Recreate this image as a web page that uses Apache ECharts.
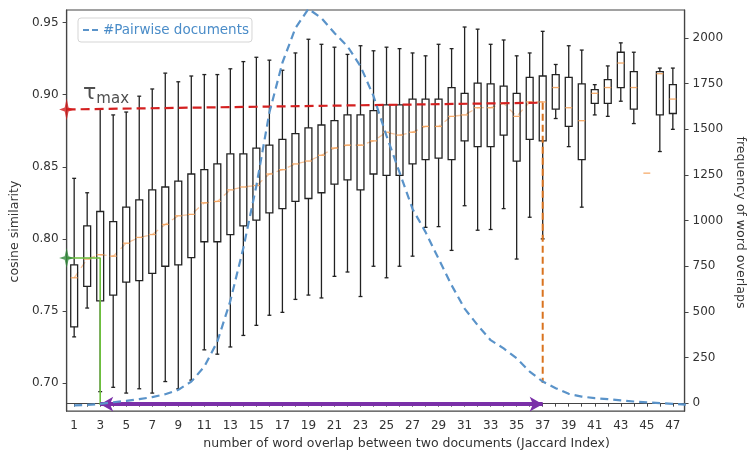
<!DOCTYPE html>
<html>
<head>
<meta charset="utf-8">
<title>Cosine similarity vs. word overlap</title>
<script src="https://cdn.jsdelivr.net/npm/echarts@6/dist/echarts.min.js"></script>
<style>
  html, body { margin: 0; padding: 0; background: #fff; }
  #chart { width: 755px; height: 455px; }
</style>
</head>
<body>
<div id="chart"></div>
<script>
// Number of overlapping words (box positions)
const overlaps = [1,2,3,4,5,6,7,8,9,10,11,12,13,14,15,16,17,18,19,20,21,22,23,24,25,26,27,28,29,30,31,32,33,34,35,36,37,38,39,40,41,42,43,44,45,46,47];

// Cosine similarity distribution per overlap count
const whiskerLow = [0.732,0.752,0.694,0.697,0.693,0.696,0.693,0.701,0.696,0.702,0.723,0.720,0.725,0.733,0.740,0.747,0.749,0.758,0.761,0.759,0.774,0.777,0.760,0.781,0.773,0.781,0.788,0.808,0.8085,0.792,0.823,0.806,0.8065,0.821,0.786,0.815,0.800,0.8835,0.864,0.822,0.886,0.885,0.8955,0.880,null,0.8606,0.876];
const quartile1  = [0.739,0.767,0.757,0.761,0.770,0.771,0.776,0.781,0.782,0.787,0.798,0.798,0.803,0.809,0.813,0.818,0.821,0.826,0.828,0.832,0.838,0.841,0.834,0.845,0.844,0.844,0.852,0.855,0.856,0.855,0.868,0.864,0.864,0.872,0.854,0.869,0.868,0.890,0.878,0.855,0.894,0.894,0.905,0.890,null,0.886,0.887];
const medians    = [0.773,0.786,0.789,0.788,0.797,0.801,0.803,0.810,0.816,0.817,0.825,0.826,0.834,0.836,0.837,0.845,0.848,0.852,0.854,0.858,0.863,0.865,0.865,0.868,0.874,0.872,0.874,0.878,0.878,0.885,0.886,0.891,0.891,0.894,0.885,0.895,0.895,0.905,0.891,0.882,0.901,0.905,0.922,0.905,0.8456,0.9146,0.897];
const quartile3  = [0.782,0.809,0.819,0.812,0.822,0.827,0.834,0.836,0.840,0.845,0.848,0.852,0.859,0.859,0.863,0.865,0.869,0.873,0.877,0.879,0.882,0.886,0.886,0.889,0.893,0.893,0.897,0.897,0.897,0.905,0.901,0.908,0.9075,0.906,0.901,0.912,0.913,0.914,0.912,0.9075,0.9035,0.9105,0.9295,0.916,null,0.916,0.907];
const whiskerHigh= [0.842,0.832,0.890,0.886,0.888,0.899,0.904,0.915,0.909,0.913,0.914,0.914,0.918,0.923,0.926,0.924,0.917,0.929,0.9385,0.935,0.933,0.928,0.934,0.9305,0.933,0.932,0.929,0.927,0.935,0.932,0.947,0.9455,0.935,0.938,0.927,0.929,0.944,0.921,0.934,0.931,0.907,0.920,0.936,0.9295,null,0.9185,0.9185];

// Number of document pairs per overlap count (right axis)
const pairPositions = [1,2,3,4,5,6,7,8,9,10,11,12,13,14,15,16,17,18,19,20,21,22,23,24,25,26,27,28,29,30,31,32,33,34,35,36,37,38,39,40,41,42,43,44,45,46,47,48];
const pairCounts = [-12,-10,-4,5,12,22,33,49,73,118,200,337,560,850,1191,1592,1865,2055,2160,2110,2028,1955,1846,1682,1464,1264,1064,937,791,646,518,427,345,300,246,173,118,82,51,36,27,22,15,9,4,0,-4,-8];

// Tick labels
const xTickValues = overlaps;
const xLabelValues = overlaps.filter(v => v % 2 === 1);
const leftTicks = [0.70, 0.75, 0.80, 0.85, 0.90, 0.95];
const rightTicks = [0, 250, 500, 750, 1000, 1250, 1500, 1750, 2000];

// Thresholds and annotated range
const xStart = 0.42, xEnd = 47.9;
const tauMax = 0.8898, tauMaxEnd = 0.8945;
const tauMin = 0.7867;
const lowerOverlap = 3, upperOverlap = 37;
const rangeLevel = 0.6853;
const upperDropTo = 0.700;
const lowerDropTo = 0.6848;

const boxData = overlaps.map((x, i) => [x, whiskerLow[i], quartile1[i], medians[i], quartile3[i], whiskerHigh[i]]);
const medianTrend = overlaps.filter(x => x <= upperOverlap).map((x, i) => [x, medians[i]]);
const pairData = pairPositions.map((x, i) => [x, pairCounts[i]]);

const FONT = 'DejaVu Sans';
const STAR = 'path://M0,-10 L1.8,-1.8 L7,0 L1.8,1.8 L0,10 L-1.8,1.8 L-7,0 L-1.8,-1.8 Z';
const DASH_ICON = 'path://M0,0 L6,0 L6,2 L0,2 Z M9,0 L15,0 L15,2 L9,2 Z';

function renderBox(params, api) {
  const x = api.value(0);
  const med = api.coord([x, api.value(3)]);
  const halfBox = api.size([0.265, 0])[0];
  const halfCap = api.size([0.15, 0])[0];
  const cx = med[0];
  const children = [];
  const lowV = api.value(1);
  if (!isNaN(lowV) && lowV !== null) {
    const lo = api.coord([x, lowV]);
    const q1 = api.coord([x, api.value(2)]);
    const q3 = api.coord([x, api.value(4)]);
    const hi = api.coord([x, api.value(5)]);
    const stroke = { stroke: '#222', lineWidth: 1.3, fill: null };
    children.push(
      { type: 'line', shape: { x1: cx, y1: lo[1], x2: cx, y2: q1[1] }, style: stroke },
      { type: 'line', shape: { x1: cx, y1: q3[1], x2: cx, y2: hi[1] }, style: stroke },
      { type: 'line', shape: { x1: cx - halfCap, y1: lo[1], x2: cx + halfCap, y2: lo[1] }, style: stroke },
      { type: 'line', shape: { x1: cx - halfCap, y1: hi[1], x2: cx + halfCap, y2: hi[1] }, style: stroke },
      { type: 'rect', shape: { x: cx - halfBox, y: q3[1], width: halfBox * 2, height: q1[1] - q3[1] },
        style: { stroke: '#222', lineWidth: 1.3, fill: 'none' } }
    );
  }
  children.push({ type: 'line', shape: { x1: cx - halfBox, y1: med[1], x2: cx + halfBox, y2: med[1] },
    style: { stroke: '#f5a35c', lineWidth: 1.3, opacity: 0.9 } });
  return { type: 'group', children };
}

const chart = echarts.init(document.getElementById('chart'), null, { renderer: 'canvas' });

chart.setOption({
  animation: false,
  backgroundColor: '#ffffff',
  textStyle: { fontFamily: FONT },
  grid: { left: 65, right: 58, top: 10, bottom: 42, show: true, borderColor: '#444', borderWidth: 1.2, backgroundColor: 'transparent' },
  legend: {
    left: 78, top: 18,
    data: [{ name: '#Pairwise documents', icon: DASH_ICON }],
    itemWidth: 15, itemHeight: 2.2, itemGap: 4,
    padding: [5, 3, 5, 5],
    borderColor: '#d5d5d5', borderWidth: 1, borderRadius: 3,
    backgroundColor: '#fff',
    itemStyle: { color: '#5a93c9' },
    textStyle: { color: '#4a8cc8', fontSize: 13.5, fontFamily: FONT }
  },
  xAxis: {
    type: 'value', min: xStart, max: xEnd,
    name: 'number of word overlap between two documents (Jaccard Index)',
    nameLocation: 'middle', nameGap: 24,
    nameTextStyle: { color: '#333', fontSize: 12.5, fontFamily: FONT, padding: [0, 0, 0, 62] },
    axisLine: { show: true, lineStyle: { color: '#444', width: 1.2 } },
    axisTick: { show: true, length: 3.5, customValues: xTickValues, lineStyle: { color: '#444' } },
    axisLabel: { customValues: xLabelValues, color: '#333', fontSize: 12, margin: 9, fontFamily: FONT },
    splitLine: { show: false }
  },
  yAxis: [
    {
      type: 'value', min: 0.6805, max: 0.9588, position: 'left',
      name: 'cosine similarity', nameLocation: 'middle', nameGap: 40,
      nameTextStyle: { color: '#333', fontSize: 12.5, fontFamily: FONT, padding: [0, 42, 0, 0] },
      axisLine: { show: true, lineStyle: { color: '#444', width: 1.2 } },
      axisTick: { show: true, length: 4, customValues: leftTicks, lineStyle: { color: '#444' } },
      axisLabel: { customValues: leftTicks, formatter: v => v.toFixed(2), color: '#333', fontSize: 12, margin: 8, fontFamily: FONT },
      splitLine: { show: false }
    },
    {
      type: 'value', min: -43.6, max: 2154, position: 'right',
      name: 'frequency of word overlaps', nameLocation: 'middle', nameGap: 48, nameRotate: -90,
      nameTextStyle: { color: '#333', fontSize: 12.6, fontFamily: FONT, padding: [0, 0, 0, 24] },
      axisLine: { show: true, lineStyle: { color: '#444', width: 1.2 } },
      axisTick: { show: true, length: 4, customValues: rightTicks, lineStyle: { color: '#444' } },
      axisLabel: { customValues: rightTicks, formatter: v => String(v), color: '#333', fontSize: 12, margin: 8, fontFamily: FONT },
      splitLine: { show: false }
    }
  ],
  series: [
    {
      name: 'boxes', type: 'custom', xAxisIndex: 0, yAxisIndex: 0,
      renderItem: renderBox,
      encode: { x: 0, y: [1, 2, 3, 4, 5] },
      data: boxData, z: 3, silent: true
    },
    {
      name: 'median trend', type: 'line', yAxisIndex: 0, data: medianTrend,
      symbol: 'none', silent: true, z: 2,
      lineStyle: { color: '#f7b27a', width: 1.3, type: [7, 5], opacity: 0.75 }
    },
    {
      name: 'tau max', type: 'line', yAxisIndex: 0,
      data: [[xStart, tauMax], [upperOverlap, tauMaxEnd]],
      symbol: 'none', silent: true, z: 4,
      lineStyle: { color: '#d42020', width: 2.2, type: [9, 5] }
    },
    {
      name: 'upper drop', type: 'line', yAxisIndex: 0,
      data: [[upperOverlap, tauMaxEnd], [upperOverlap, upperDropTo]],
      symbol: 'none', silent: true, z: 4,
      lineStyle: { color: '#d9731f', width: 2, type: [7, 4] }
    },
    {
      name: 'tau min', type: 'line', yAxisIndex: 0,
      data: [[xStart, tauMin], [lowerOverlap, tauMin], [lowerOverlap, lowerDropTo]],
      symbol: 'none', silent: true, z: 4,
      lineStyle: { color: '#6cbf3c', width: 1.6 }
    },
    {
      name: '#Pairwise documents', type: 'line', yAxisIndex: 1, data: pairData,
      symbol: 'none', silent: true, z: 5, clip: true,
      itemStyle: { color: '#5a93c9' },
      lineStyle: { color: '#5a93c9', width: 2.2, type: [8, 5] }
    },
    {
      name: 'range', type: 'line', yAxisIndex: 0, data: [], silent: true, z: 6,
      markLine: {
        silent: true, animation: false,
        symbol: ['arrow', 'arrow'], symbolSize: [11, 13],
        label: { show: false },
        lineStyle: { color: '#7a2fa8', width: 4, type: 'solid' },
        data: [[{ coord: [lowerOverlap, rangeLevel] }, { coord: [upperOverlap, rangeLevel] }]]
      }
    },
    {
      name: 'tau max marker', type: 'scatter', yAxisIndex: 0, clip: false, silent: true, z: 7,
      data: [[xStart, tauMax]],
      symbol: STAR, symbolSize: [15, 22],
      itemStyle: { color: '#d41c1c' },
      label: {
        show: true, position: 'right', offset: [4, -15],
        formatter: '{t|τ}{s|max}',
        rich: {
          t: { fontSize: 22, color: '#222', fontFamily: FONT, verticalAlign: 'bottom', padding: [0, 0, 3, 0] },
          s: { fontSize: 15, color: '#222', fontFamily: FONT, verticalAlign: 'bottom' }
        }
      }
    },
    {
      name: 'tau min marker', type: 'scatter', yAxisIndex: 0, clip: false, silent: true, z: 7,
      data: [[xStart, tauMin]],
      symbol: STAR, symbolSize: [15, 20],
      itemStyle: { color: '#2f8a3a' }
    }
  ]
});
</script>
</body>
</html>
